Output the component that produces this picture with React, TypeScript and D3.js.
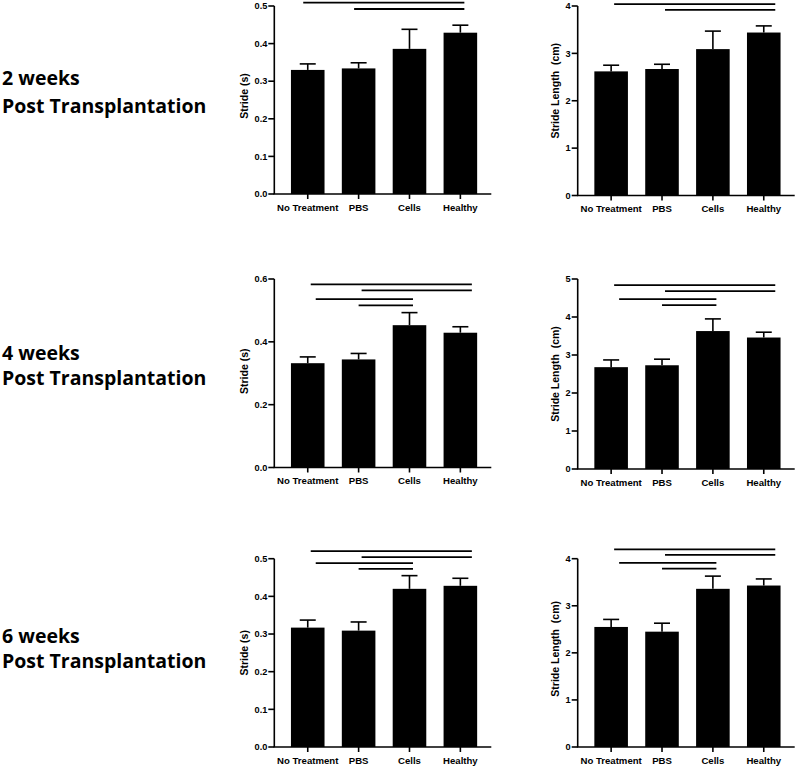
import React from "react";
import * as d3 from "d3";

// ---------- DATA ----------
const categories = ["No Treatment", "PBS", "Cells", "Healthy"];
const timepoints = ["2 weeks", "4 weeks", "6 weeks"];
const subtitle = "Post Transplantation";

const strideTitle = "Stride (s)";
const lengthTitle = "Stride Length  (cm)";

// means and upper error (SEM) per timepoint
const stride2w = [0.330, 0.334, 0.386, 0.429];
const stride2wErr = [0.016, 0.015, 0.052, 0.020];
const length2w = [2.62, 2.67, 3.09, 3.44];
const length2wErr = [0.13, 0.10, 0.38, 0.14];

const stride4w = [0.332, 0.344, 0.453, 0.429];
const stride4wErr = [0.020, 0.019, 0.040, 0.019];
const length4w = [2.68, 2.73, 3.63, 3.46];
const length4wErr = [0.19, 0.16, 0.32, 0.14];

const stride6w = [0.317, 0.309, 0.420, 0.428];
const stride6wErr = [0.020, 0.023, 0.035, 0.020];
const length6w = [2.55, 2.45, 3.36, 3.43];
const length6wErr = [0.16, 0.18, 0.27, 0.14];

// axis maxima and tick steps
const strideMax = [0.5, 0.6, 0.5];
const strideStep = [0.1, 0.2, 0.1];
const lengthMax = [4, 5, 4];
const lengthStep = [1, 1, 1];

// significance comparisons [from, to] and their heights (data units)
const comps2w = [["No Treatment", "Healthy"], ["PBS", "Healthy"]];
const comps46w = [
  ["No Treatment", "Healthy"],
  ["PBS", "Healthy"],
  ["No Treatment", "Cells"],
  ["PBS", "Cells"],
];
const strideSig2w = [0.509, 0.492];
const lengthSig2w = [4.04, 3.92];
const strideSig4w = [0.583, 0.564, 0.536, 0.516];
const lengthSig4w = [4.84, 4.68, 4.47, 4.31];
const strideSig6w = [0.520, 0.504, 0.488, 0.473];
const lengthSig6w = [4.20, 4.08, 3.91, 3.79];

// ---------- STYLE / LAYOUT ----------
const colX = [274.3, 577.7];
const rowTop = [6, 279, 558.7];
const rowBottom = [
  [194, 195.5],
  [467.5, 469],
  [747, 747],
];
const labelBase = [
  [85, 112.5],
  [360, 385],
  [643, 668],
];
const titleOffset = [-29.5, -22.5];
const titleDy = [
  [-4, -10],
  [-2, 0],
  [0, -4],
];
const sigShift = [
  [-7.5, 0],
  [0, 0],
  [0, 0],
];
const tickFont = "'Liberation Sans', Arial, sans-serif";
const labelFont = "'Open Sans', 'Noto Sans', sans-serif";

interface PanelProps {
  x0: number;
  top: number;
  bottom: number;
  max: number;
  step: number;
  values: number[];
  errs: number[];
  comps: string[][];
  sig: number[];
  title: string;
  titleX: number;
  titleDy: number;
  shift: number;
}

function Panel(p: PanelProps) {
  const axisLen = 217;
  const x = d3
    .scaleBand<string>()
    .domain(categories)
    .range([p.x0 + 8, p.x0 + 8 + 203.5])
    .paddingInner(0.34)
    .paddingOuter(0.17);
  const y = d3.scaleLinear().domain([0, p.max]).range([p.bottom, p.top]);
  const ticks = d3.range(0, p.max + p.step / 2, p.step);
  const fmt = p.step < 1 ? d3.format(".1f") : d3.format("d");
  const bw = x.bandwidth();
  const cx = (c: string) => (x(c) as number) + bw / 2;
  const capW = 16;
  const mid = (p.top + p.bottom) / 2 + p.titleDy;
  return (
    <g>
      {categories.map((c, i) => (
        <g key={c}>
          <line
            x1={cx(c)}
            x2={cx(c)}
            y1={y(p.values[i])}
            y2={y(p.values[i] + p.errs[i])}
            stroke="#000"
            strokeWidth={1.6}
          />
          <line
            x1={cx(c) - capW / 2}
            x2={cx(c) + capW / 2}
            y1={y(p.values[i] + p.errs[i])}
            y2={y(p.values[i] + p.errs[i])}
            stroke="#000"
            strokeWidth={1.6}
          />
          <rect
            x={x(c)}
            y={y(p.values[i])}
            width={bw}
            height={y(0) - y(p.values[i])}
            fill="#000"
          />
        </g>
      ))}
      {/* y axis */}
      <line x1={p.x0} x2={p.x0} y1={p.top} y2={p.bottom} stroke="#000" strokeWidth={1.6} />
      {ticks.map((t) => (
        <g key={t}>
          <line x1={p.x0 - 6} x2={p.x0} y1={y(t)} y2={y(t)} stroke="#000" strokeWidth={1.6} />
          <text
            x={p.x0 - 7}
            y={y(t)}
            dy="0.35em"
            textAnchor="end"
            fontFamily={tickFont}
            fontWeight="bold"
            fontSize={9.2}
          >
            {fmt(t)}
          </text>
        </g>
      ))}
      {/* x axis */}
      <line x1={p.x0 - 0.8} x2={p.x0 + axisLen} y1={p.bottom} y2={p.bottom} stroke="#000" strokeWidth={1.6} />
      {categories.map((c) => (
        <g key={"xt" + c}>
          <line x1={cx(c)} x2={cx(c)} y1={p.bottom} y2={p.bottom + 5} stroke="#000" strokeWidth={1.6} />
          <text
            x={cx(c)}
            y={p.bottom + 16.5}
            textAnchor="middle"
            fontFamily={tickFont}
            fontWeight="bold"
            fontSize={9.6}
          >
            {c}
          </text>
        </g>
      ))}
      {/* axis title */}
      <text
        transform={`translate(${p.x0 + p.titleX},${mid}) rotate(-90)`}
        textAnchor="middle"
        dy="0.35em"
        fontFamily={tickFont}
        fontWeight="bold"
        fontSize={10.5}
        style={{ whiteSpace: "pre" }}
      >
        {p.title}
      </text>
      {/* significance lines */}
      {p.comps.map((cmp, k) => {
        const [a, b] = cmp;
        const dx0 = a === "No Treatment" && b === "Cells" ? 8 : a === "PBS" && b === "Cells" ? 0 : 3;
        const dx1 = b === "Healthy" ? 11.5 : 3.5;
        return (
          <line
            key={"s" + k}
            x1={cx(a) + dx0 + p.shift}
            x2={cx(b) + dx1 + p.shift}
            y1={y(p.sig[k])}
            y2={y(p.sig[k])}
            stroke="#000"
            strokeWidth={1.8}
          />
        );
      })}
    </g>
  );
}

export default function App() {
  const strideVals = [stride2w, stride4w, stride6w];
  const strideErrs = [stride2wErr, stride4wErr, stride6wErr];
  const lengthVals = [length2w, length4w, length6w];
  const lengthErrs = [length2wErr, length4wErr, length6wErr];
  const comps = [comps2w, comps46w, comps46w];
  const strideSig = [strideSig2w, strideSig4w, strideSig6w];
  const lengthSig = [lengthSig2w, lengthSig4w, lengthSig6w];

  return (
    <svg
      width={800}
      height={768}
      style={{ position: "absolute", left: 0, top: 0, background: "#fff" }}
    >
      <rect width={800} height={768} fill="#fff" />
      {timepoints.map((tp, r) => (
        <g key={tp}>
          <text x={2} y={labelBase[r][0]} fontFamily={labelFont} fontWeight="bold" fontSize={19.5}>
            {tp}
          </text>
          <text x={2} y={labelBase[r][1]} fontFamily={labelFont} fontWeight="bold" fontSize={19.5}>
            {subtitle}
          </text>
          <Panel
            x0={colX[0]}
            top={rowTop[r]}
            bottom={rowBottom[r][0]}
            max={strideMax[r]}
            step={strideStep[r]}
            values={strideVals[r]}
            errs={strideErrs[r]}
            comps={comps[r]}
            sig={strideSig[r]}
            title={strideTitle}
            titleX={titleOffset[0]}
            titleDy={titleDy[r][0]}
            shift={sigShift[r][0]}
          />
          <Panel
            x0={colX[1]}
            top={rowTop[r]}
            bottom={rowBottom[r][1]}
            max={lengthMax[r]}
            step={lengthStep[r]}
            values={lengthVals[r]}
            errs={lengthErrs[r]}
            comps={comps[r]}
            sig={lengthSig[r]}
            title={lengthTitle}
            titleX={titleOffset[1]}
            titleDy={titleDy[r][1]}
            shift={sigShift[r][1]}
          />
        </g>
      ))}
    </svg>
  );
}
